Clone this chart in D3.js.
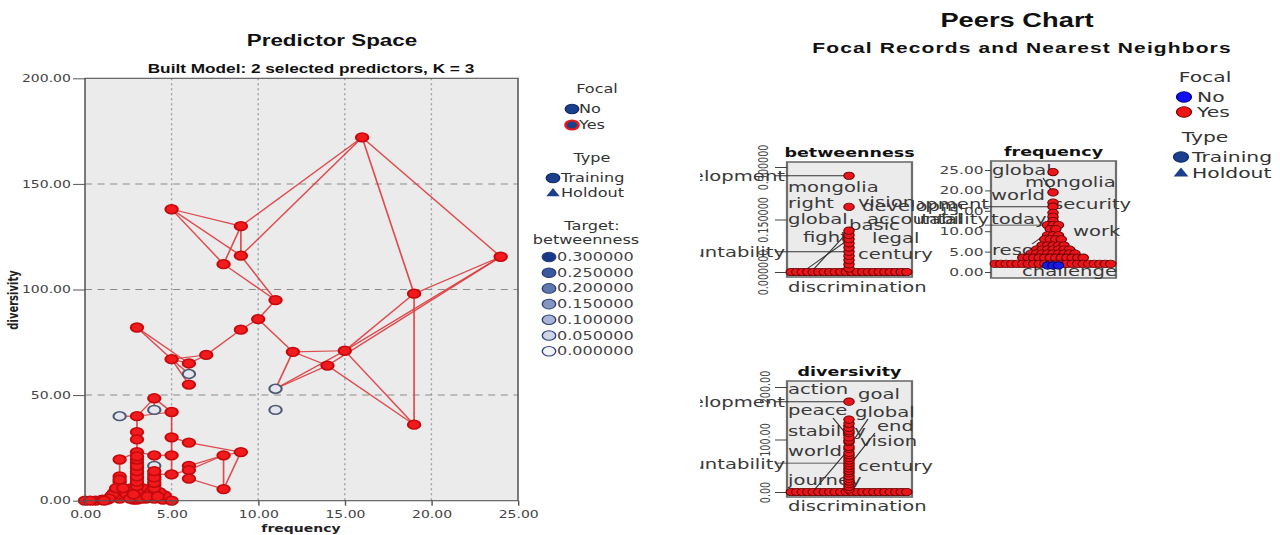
<!DOCTYPE html>
<html>
<head>
<meta charset="utf-8">
<script src="https://cdn.jsdelivr.net/npm/d3@7"></script>
<style>
  body { margin: 0; background: #fff; }
  svg { display: block; }
</style>
</head>
<body>
<div id="chart"></div>
<script>
// the source picture is stretched sideways, so draw in a narrower
// coordinate space and let the viewBox widen it again
var K = 1.4;
var svgWidth = 1280;
var svgHeight = 535;
function X(px) { return px / K; }

/***************************************************************************/
// Predictor space: one entry per record
var frequency = [16, 5, 9, 9, 8, 24, 19, 11, 10, 9, 3, 7, 5, 6, 12, 15, 14, 6, 6, 11,
  11, 19, 4, 4, 2, 3, 5, 3, 3, 5, 6, 3, 4, 5, 8, 9, 2, 6, 6, 4,
  5, 6, 8, 4, 2, 3, 3, 3, 3, 3, 3, 4, 4, 4, 2, 2, 2, 1.7, 2.4, 1.5,
  2.6, 1.3, 2.8, 0, 0.6, 1, 3.5, 4.5, 3.4, 4.6, 2.7, 3.3, 3.8, 4.3, 5, 2, 3, 4,
  3, 3, 3, 3, 3, 3, 3, 3, 3, 4, 4, 4, 4, 4, 4, 2, 2, 2, 2, 2,
  1.6, 2.4, 1.8, 2.2, 1.4, 2.6, 3.2, 2.8, 3.6, 4.2, 1.1, 0.3];
var diversivity = [172, 138, 130, 116, 112, 115.5, 98, 95, 86, 81, 82, 69, 67, 65, 70.5, 71, 64, 60, 55, 53,
  43, 36, 48.5, 43, 40, 40, 42, 32.5, 29, 30, 27.5, 23, 21.5, 21.5, 21.5, 23, 19.5, 16.5, 14.5, 16.5,
  12.5, 10.5, 5.5, 12.5, 11.5, 18, 15.5, 13, 10.5, 8, 5.5, 10, 7.5, 5, 9, 6.5, 4, 4, 4, 2,
  2, 0.5, 0.5, 0, 0, 0.5, 1, 0.5, 3, 2.5, 6, 6, 4, 4, 0, 1.5, 0.5, 1,
  2.5, 4, 7, 9, 11.5, 14, 16.5, 19.5, 21, 2.5, 3.5, 6, 8.5, 11, 14, 1, 3, 5, 7.5, 10,
  3, 3, 6, 6, 1, 1, 1, 3, 2, 2, 0, 0];
var focal = [1, 1, 1, 1, 1, 1, 1, 1, 1, 1, 1, 1, 1, 1, 1, 1, 1, 0, 1, 0,
  0, 1, 1, 0, 0, 1, 1, 1, 1, 1, 1, 1, 1, 1, 1, 1, 1, 1, 1, 0,
  1, 1, 1, 1, 1, 1, 1, 1, 1, 1, 1, 1, 1, 1, 1, 1, 1, 1, 1, 1,
  1, 1, 1, 1, 1, 1, 1, 1, 1, 1, 1, 1, 1, 1, 1, 1, 1, 1,
  1, 1, 1, 1, 1, 1, 1, 1, 1, 1, 1, 1, 1, 1, 1, 1, 1, 1, 1, 1,
  1, 1, 1, 1, 1, 1, 1, 1, 1, 1, 1, 1];
var neighborLinks = [[0, 2], [0, 3], [0, 6], [0, 5], [1, 2], [1, 4], [1, 3], [2, 3], [2, 4],
  [4, 7], [3, 7], [5, 6], [5, 15], [5, 16], [6, 15], [6, 21], [7, 8], [8, 9], [8, 14],
  [9, 11], [11, 13], [11, 12], [10, 12], [10, 13], [12, 13], [12, 18], [12, 17], [13, 17],
  [14, 15], [14, 16], [14, 19], [15, 19], [15, 21], [16, 21], [16, 19],
  [22, 25], [22, 26], [22, 23], [25, 26], [24, 25], [25, 27], [27, 28], [28, 31], [26, 29],
  [29, 30], [30, 35], [29, 33], [31, 36], [31, 32], [32, 33], [33, 40], [40, 38], [37, 34],
  [34, 35], [34, 42], [35, 42], [41, 42], [38, 34], [43, 40], [36, 44], [44, 54], [54, 55],
  [55, 56], [31, 45], [45, 46], [46, 47], [47, 48], [48, 49], [49, 50], [32, 39], [39, 43],
  [43, 51], [51, 52], [52, 53], [37, 38], [38, 41], [56, 57], [56, 58], [57, 59], [58, 60],
  [59, 61], [60, 62], [61, 65], [65, 64], [64, 63], [50, 70], [50, 71], [71, 68], [70, 60],
  [53, 72], [53, 73], [72, 66], [73, 69], [69, 67], [67, 74], [66, 76], [75, 59], [77, 66],
  [78, 79], [79, 80], [80, 81], [81, 82], [82, 83], [83, 84], [84, 85], [85, 86], [87, 88],
  [88, 89], [89, 90], [90, 91], [91, 92], [93, 94], [94, 95], [95, 96], [96, 97], [98, 100],
  [99, 101], [102, 98], [103, 99], [104, 105], [106, 107], [108, 109]];

var xTicks = [0, 5, 10, 15, 20, 25];
var yTicks = [0, 50, 100, 150, 200];
var targetLevels = [0.3, 0.25, 0.2, 0.15, 0.1, 0.05, 0];

// Peers chart: values shown in each small dot plot
var betweennessPeers = [0, 0, 0, 0, 0, 0, 0, 0, 0, 0, 0, 0, 0, 0, 0, 0, 0, 0, 0, 0, 0, 0,
  0.01, 0.022, 0.034, 0.046, 0.058, 0.07, 0.082, 0.094, 0.106, 0.118, 0.186, 0.275];
var frequencyPeers = [24.5, 19.5, 17, 16, 14.5, 13.5, 12.5, 11.5, 11.5, 11.5, 10.5, 10.5,
  9, 9, 9, 8, 8, 8, 8, 6.5, 6.5, 6.5, 6.5, 6.5, 5.5, 5.5, 5.5, 5.5, 5.5, 5.5, 5.5,
  4.5, 4.5, 4.5, 4.5, 4.5, 4.5, 4.5, 4.5, 4.5,
  3.5, 3.5, 3.5, 3.5, 3.5, 3.5, 3.5, 3.5, 3.5, 3.5, 3.5, 3.5,
  2, 2, 2, 2, 2, 2, 2, 2, 2, 2, 2, 2, 2, 2, 2, 2, 2, 2, 2, 2, 2, 2];
var frequencyOthers = [1.6, 1.6, 1.6];
var diversivityPeers = [0, 0, 0, 0, 0, 0, 0, 0, 0, 0, 0, 0, 0, 0, 0, 0, 0, 0, 0, 0, 0, 0,
  5, 10, 15, 20, 25, 30, 36, 40, 45, 50, 55, 60, 65, 70, 75, 82, 86, 95, 98, 104, 112,
  116, 122, 130, 138, 172];

var betweennessNames = ["development", "accountability", "mongolia", "right", "vision",
  "development", "global", "basic", "accountability", "fight", "legal", "century", "discrimination"];
var frequencyNames = ["global", "mongolia", "world", "development", "security",
  "accountability", "today", "work", "resource", "challenge"];
var diversivityNames = ["action", "goal", "development", "peace", "global", "end", "stability",
  "vision", "world", "accountability", "century", "journey", "discrimination"];

/***************************************************************************/
// layout of the name labels: [x, baseline, anchor] in picture pixels
var betweennessNamePos = [[785, 181, "end"], [785, 257, "end"], [788, 192], [788, 208], [858, 207],
  [862, 211], [788, 224], [849, 230], [867, 224], [803, 242], [872, 243], [858, 259], [788, 292]];
var frequencyNamePos = [[992, 175], [1025, 187], [991, 200], [989, 209, "end"], [1053, 209],
  [989, 224, "end"], [991, 224], [1073, 236], [992, 255], [1022, 276]];
var diversivityNamePos = [[788, 394], [858, 399], [785, 407, "end"], [788, 415], [855, 417],
  [877, 431], [788, 436], [860, 446], [788, 456], [785, 469, "end"], [858, 471], [788, 485], [788, 511]];

var labelFont = "DejaVu Sans, Verdana, sans-serif";
var titleFont = "Liberation Sans, Arial, sans-serif";
var navy = "#1c3f8c";

var svg = d3.select("#chart")
  .append("svg")
  .attr("width", svgWidth)
  .attr("height", svgHeight)
  .attr("viewBox", `0 0 ${svgWidth / K} ${svgHeight}`)
  .attr("preserveAspectRatio", "none");

function addText(parent, px, y, str, size, opts) {
  opts = opts || {};
  return parent.append("text")
    .attr("x", X(px))
    .attr("y", y)
    .attr("text-anchor", opts.anchor || "start")
    .attr("font-family", opts.font || labelFont)
    .attr("font-weight", opts.bold ? "bold" : "normal")
    .attr("font-size", size)
    .attr("letter-spacing", opts.spacing || 0)
    .attr("fill", opts.fill || "#333")
    .text(str);
}

/***************************************************************************/
// Predictor space
addText(svg, 332, 46, "Predictor Space", 16, {anchor: "middle", bold: true, font: titleFont, fill: "#111"});
addText(svg, 311, 73, "Built Model: 2 selected predictors, K = 3", 12.3,
  {anchor: "middle", bold: true, font: titleFont, fill: "#111"});

var plot = {left: X(85), right: X(518), top: 78.3, bottom: 500.7};

var xScale = d3.scaleLinear().domain([0, 25]).range([plot.left, plot.right]);
var yScale = d3.scaleLinear().domain([0, 200]).range([plot.bottom, plot.top]);

svg.append("rect")
  .attr("x", plot.left).attr("y", plot.top)
  .attr("width", plot.right - plot.left).attr("height", plot.bottom - plot.top)
  .attr("fill", "#ebebeb");

svg.append("g").selectAll("line")
  .data(xTicks.slice(1, -1))
  .enter().append("line")
  .attr("x1", d => xScale(d)).attr("x2", d => xScale(d))
  .attr("y1", plot.top).attr("y2", plot.bottom)
  .attr("stroke", "#9aa0aa").attr("stroke-width", 1).attr("stroke-dasharray", "2,3");

svg.append("g").selectAll("line")
  .data(yTicks.slice(1, -1))
  .enter().append("line")
  .attr("x1", plot.left).attr("x2", plot.right)
  .attr("y1", d => yScale(d)).attr("y2", d => yScale(d))
  .attr("stroke", "#8c8c8c").attr("stroke-width", 1).attr("stroke-dasharray", "5,4");

// neighbour lines, then the points on top
svg.append("g").selectAll("line")
  .data(neighborLinks)
  .enter().append("line")
  .attr("x1", d => xScale(frequency[d[0]])).attr("y1", d => yScale(diversivity[d[0]]))
  .attr("x2", d => xScale(frequency[d[1]])).attr("y2", d => yScale(diversivity[d[1]]))
  .attr("stroke", "#de3a3e").attr("stroke-width", 1.2).attr("opacity", 0.9);

svg.append("g").selectAll("circle")
  .data(d3.range(frequency.length))
  .enter().append("circle")
  .attr("cx", i => xScale(frequency[i]))
  .attr("cy", i => yScale(diversivity[i]))
  .attr("r", 4.4)
  .attr("fill", i => focal[i] ? "#f31a1e" : "#e4e6ee")
  .attr("stroke", i => focal[i] ? "#c50a0e" : "#4e5872")
  .attr("stroke-width", 1.5);

svg.append("rect")
  .attr("x", plot.left).attr("y", plot.top)
  .attr("width", plot.right - plot.left).attr("height", plot.bottom - plot.top)
  .attr("fill", "none").attr("stroke", "#555").attr("stroke-width", 1.1);

var leftAxis = d3.axisLeft(yScale).tickValues(yTicks).tickFormat(d3.format(".2f"))
  .tickSize(X(12)).tickPadding(1.5);
var yAxis = svg.append("g").attr("transform", `translate(${plot.left},0)`).call(leftAxis);

var bottomAxis = d3.axisBottom(xScale).tickValues(xTicks).tickFormat(d3.format(".2f"))
  .tickSize(5).tickPadding(5);
var xAxis = svg.append("g").attr("transform", `translate(0,${plot.bottom})`).call(bottomAxis);

[xAxis, yAxis].forEach(function(ax) {
  ax.select(".domain").remove();
  ax.selectAll("line").attr("stroke", "#555");
  ax.selectAll("text").attr("font-family", labelFont).attr("font-size", 10).attr("fill", "#444");
});

addText(svg, 301, 532, "frequency", 10, {anchor: "middle", bold: true, fill: "#222"});
svg.append("text")
  .attr("transform", `translate(${X(18)},300) rotate(-90)`)
  .attr("text-anchor", "middle")
  .attr("font-family", labelFont).attr("font-weight", "bold").attr("font-size", 10)
  .attr("fill", "#222")
  .text("diversivity");

// legend for predictor space
addText(svg, 597, 93, "Focal", 11.5, {anchor: "middle"});
svg.append("circle").attr("cx", X(572)).attr("cy", 109).attr("r", 4.8)
  .attr("fill", navy).attr("stroke", "#0d2a66").attr("stroke-width", 1);
addText(svg, 579, 113, "No", 11.5);
svg.append("circle").attr("cx", X(572)).attr("cy", 125).attr("r", 4.6)
  .attr("fill", navy).attr("stroke", "#e41a1a").attr("stroke-width", 2);
addText(svg, 579, 129.5, "Yes", 11.5);

addText(svg, 592, 162, "Type", 11.5, {anchor: "middle"});
svg.append("circle").attr("cx", X(553)).attr("cy", 178).attr("r", 4.8)
  .attr("fill", navy).attr("stroke", "#0d2a66");
addText(svg, 561, 182, "Training", 11.5);
svg.append("path")
  .attr("d", d3.symbol(d3.symbolTriangle).size(40)())
  .attr("transform", `translate(${X(553)},193.5)`)
  .attr("fill", navy);
addText(svg, 561, 197.5, "Holdout", 11.5);

addText(svg, 592, 230, "Target:", 11.5, {anchor: "middle"});
addText(svg, 586, 244, "betweenness", 11.5, {anchor: "middle"});

var targetColor = d3.scaleLinear().domain([0, 0.3]).range(["#f2f3f9", "#15398a"]);
var targetLegend = svg.append("g").selectAll("g")
  .data(targetLevels)
  .enter().append("g")
  .attr("transform", (d, i) => `translate(0,${257 + i * 15.7})`);
targetLegend.append("circle")
  .attr("cx", X(549)).attr("cy", 0).attr("r", 4.8)
  .attr("fill", d => targetColor(d)).attr("stroke", "#2c3f78").attr("stroke-width", 1);
targetLegend.append("text")
  .attr("x", X(557)).attr("y", 4)
  .attr("font-family", labelFont).attr("font-size", 11.5).attr("fill", "#444")
  .text(d => d3.format(".6f")(d));

/***************************************************************************/
// Peers chart
addText(svg, 1017, 27, "Peers Chart", 19.5, {anchor: "middle", bold: true, font: titleFont, fill: "#111"});
addText(svg, 1022, 53, "Focal Records and Nearest Neighbors", 15,
  {anchor: "middle", bold: true, font: titleFont, fill: "#111", spacing: 0.8});

addText(svg, 1205, 82, "Focal", 14.5, {anchor: "middle"});
svg.append("circle").attr("cx", X(1184)).attr("cy", 97).attr("r", 5.3)
  .attr("fill", "#1010f0").attr("stroke", "#000080");
addText(svg, 1197, 102, "No", 14.5);
svg.append("circle").attr("cx", X(1184)).attr("cy", 112).attr("r", 5.3)
  .attr("fill", "#f01414").attr("stroke", "#800000");
addText(svg, 1197, 117.5, "Yes", 14.5);
addText(svg, 1205, 142, "Type", 14.5, {anchor: "middle"});
svg.append("circle").attr("cx", X(1181)).attr("cy", 157).attr("r", 5.3)
  .attr("fill", navy).attr("stroke", "#0d2a66");
addText(svg, 1192, 162.5, "Training", 14.5);
svg.append("path")
  .attr("d", d3.symbol(d3.symbolTriangle).size(48)())
  .attr("transform", `translate(${X(1181)},173.5)`)
  .attr("fill", navy);
addText(svg, 1192, 178.5, "Holdout", 14.5);

// dot plot: equal values are spread sideways around the centre
function dotPlot(values, step) {
  var counts = d3.rollup(values, v => v.length, d => d);
  var seen = new Map();
  return values.map(function(v) {
    var n = counts.get(v), i = seen.get(v) || 0;
    seen.set(v, i + 1);
    return {value: v, dx: (i - (n - 1) / 2) * step};
  });
}

function drawPanel(cfg) {
  var clipId = "clip-" + cfg.title;
  svg.append("clipPath").attr("id", clipId)
    .append("rect")
    .attr("x", X(cfg.cell[0])).attr("y", cfg.cell[1])
    .attr("width", X(cfg.cell[2] - cfg.cell[0])).attr("height", cfg.cell[3] - cfg.cell[1]);
  var g = svg.append("g").attr("clip-path", `url(#${clipId})`);

  var box = cfg.box;
  var y = d3.scaleLinear().domain(cfg.domain).range(cfg.range);
  var cx = X(cfg.center);

  g.append("rect")
    .attr("x", X(box[0])).attr("y", box[1])
    .attr("width", X(box[2] - box[0])).attr("height", box[3] - box[1])
    .attr("fill", "#ebebeb").attr("stroke", "#6e6e6e").attr("stroke-width", 1.6);

  addText(g, (box[0] + box[2]) / 2, box[1] - 5, cfg.title, 12.5, {anchor: "middle", bold: true, fill: "#111"});

  var axis = d3.axisLeft(y).tickValues(cfg.ticks).tickFormat(d3.format(cfg.format))
    .tickSize(X(cfg.tickLen)).tickPadding(1);
  var ax = g.append("g").attr("transform", `translate(${X(box[0])},0)`).call(axis);
  ax.select(".domain").remove();
  ax.selectAll("line").attr("stroke", "#444");
  ax.selectAll("text").attr("font-family", labelFont).attr("font-size", cfg.rotate ? 9.6 : 11)
    .attr("fill", "#444");
  if (cfg.rotate) {
    ax.selectAll("text")
      .attr("transform", "rotate(-90)")
      .attr("x", 0).attr("y", X(cfg.rotate)).attr("dy", "0.35em")
      .attr("text-anchor", "middle");
  }

  // name labels
  cfg.names.forEach(function(name, i) {
    var p = cfg.namePos[i];
    addText(g, p[0], p[1], name, 14, {anchor: p[2] || "start", fill: "#3a3a3a"});
  });

  // leader lines from a label to a dot
  g.append("g").selectAll("line")
    .data(cfg.leaders)
    .enter().append("line")
    .attr("x1", d => X(d[0])).attr("y1", d => d[1] === null ? y(d[2]) : d[1])
    .attr("x2", cx).attr("y2", d => y(d[2]))
    .attr("stroke", "#333").attr("stroke-width", 0.9);

  var dots = dotPlot(cfg.values, X(5.5));
  g.append("g").selectAll("circle")
    .data(dots)
    .enter().append("circle")
    .attr("cx", d => cx + d.dx).attr("cy", d => y(d.value))
    .attr("r", 3.7)
    .attr("fill", "#ea151b").attr("stroke", "#6a0000").attr("stroke-width", 0.8);

  if (cfg.others) {
    g.append("g").selectAll("circle")
      .data(dotPlot(cfg.others, X(5.5)))
      .enter().append("circle")
      .attr("cx", d => cx + d.dx).attr("cy", d => y(d.value))
      .attr("r", 3.7)
      .attr("fill", "#1a1ae0").attr("stroke", "#000070").attr("stroke-width", 0.8);
  }
}

drawPanel({
  title: "betweenness", cell: [700, 135, 962, 300], box: [787, 162, 912, 277],
  domain: [0, 0.3], range: [272, 167], ticks: [0, 0.15, 0.3], format: ".6f",
  tickLen: 12, rotate: -24, center: 849,
  values: betweennessPeers, names: betweennessNames, namePos: betweennessNamePos,
  leaders: [[775, null, 0.275], [775, null, 0.058], [812, 271, 0.118], [804, 271, 0.094]]
});

drawPanel({
  title: "frequency", cell: [918, 135, 1160, 300], box: [991, 161, 1116, 278],
  domain: [0, 25], range: [272, 170], ticks: [0, 5, 10, 15, 20, 25], format: ".2f",
  tickLen: 6, center: 1053,
  values: frequencyPeers, others: frequencyOthers, names: frequencyNames, namePos: frequencyNamePos,
  leaders: [[985, null, 16], [985, null, 11.5], [1043, 178, 19.5], [1032, 244, 10.5]]
});

drawPanel({
  title: "diversivity", cell: [700, 355, 962, 520], box: [787, 381, 912, 497],
  domain: [0, 200], range: [492, 387], ticks: [0, 100, 200], format: ".2f",
  tickLen: 12, rotate: -22, center: 849,
  values: diversivityPeers, names: diversivityNames, namePos: diversivityNamePos,
  leaders: [[775, null, 172], [775, null, 55], [833, 418, 104], [868, 419, 86],
    [875, 433, 50], [815, 489, 82]]
});
</script>
</body>
</html>
